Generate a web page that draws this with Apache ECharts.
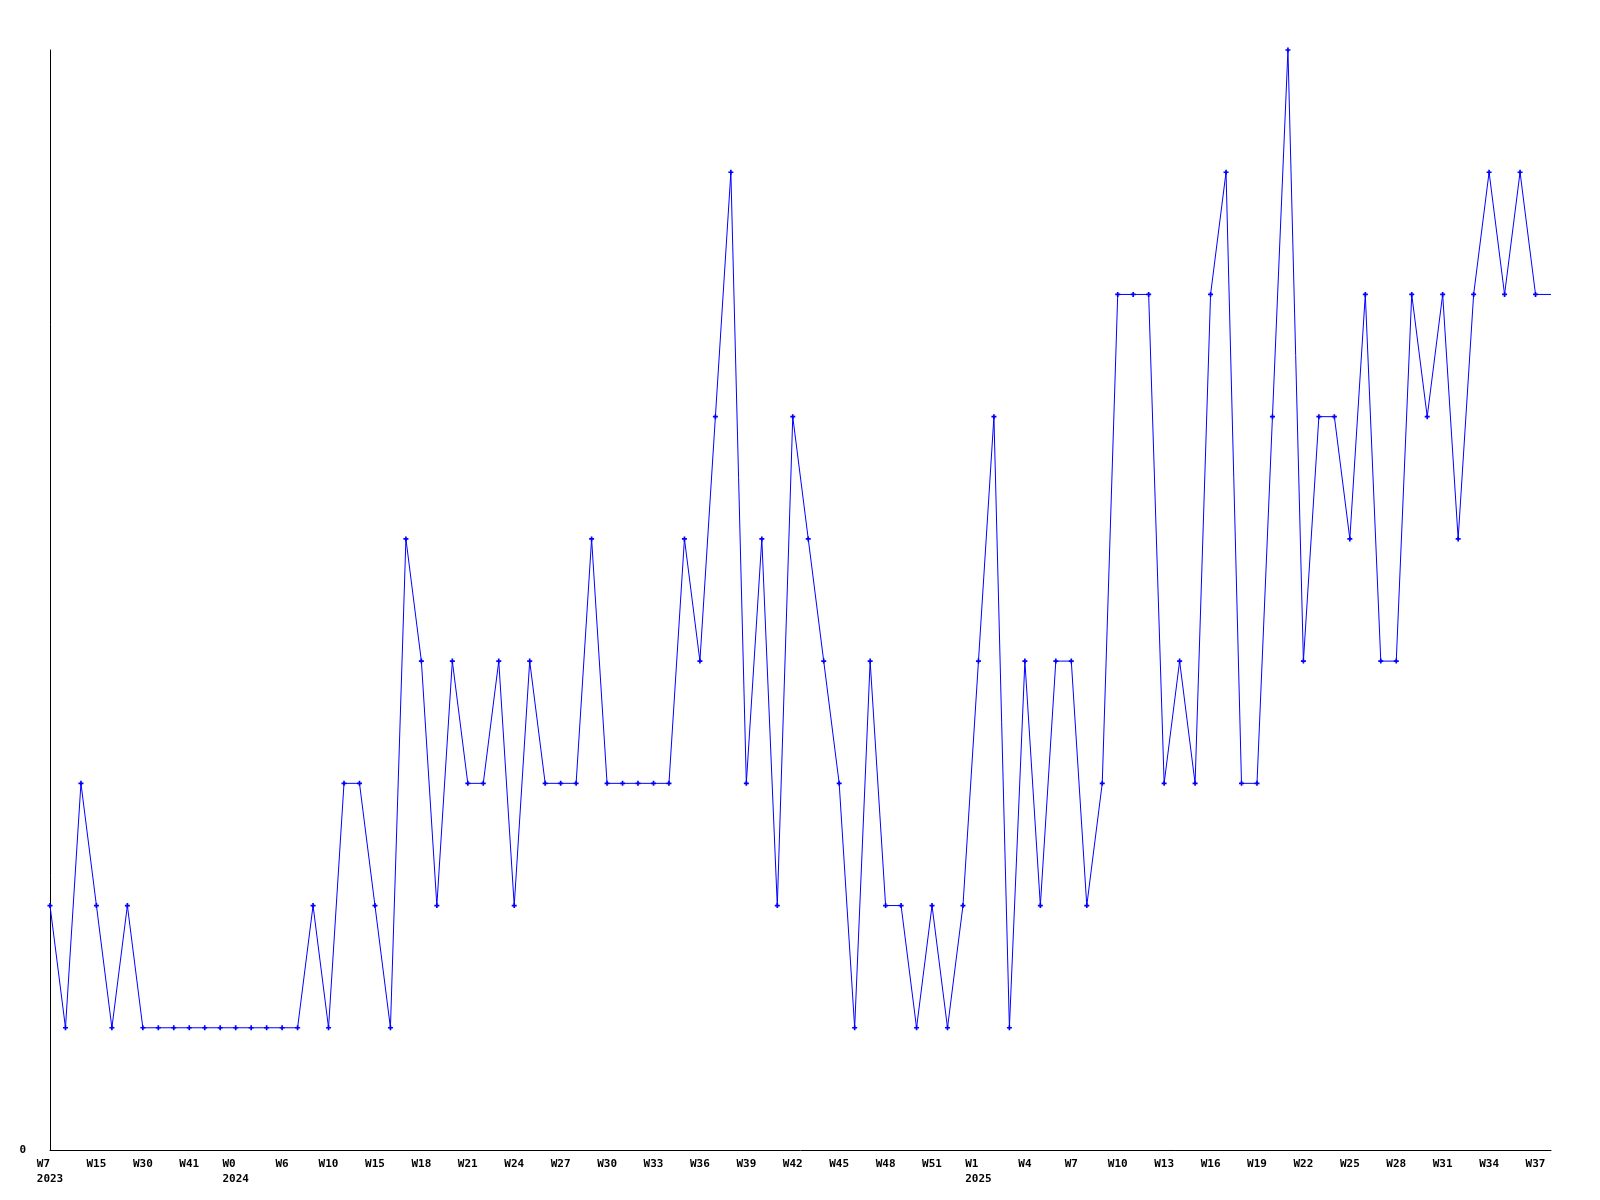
<!DOCTYPE html>
<html>
<head>
<meta charset="utf-8">
<script src="https://cdn.jsdelivr.net/npm/echarts@6/dist/echarts.min.js"></script>
<style>
  html, body { margin: 0; padding: 0; background: #ffffff; }
  #chart { width: 1600px; height: 1200px; }
</style>
</head>
<body>
<div id="chart"></div>
<script>
// Week categories (year-week); every third one is labelled on the axis
const categories = [
  '2023-W7','2023-W9','2023-W12','2023-W15','2023-W21','2023-W26','2023-W30','2023-W33','2023-W37','2023-W41','2023-W45','2023-W49',
  '2024-W0','2024-W2','2024-W4','2024-W6','2024-W7','2024-W9','2024-W10','2024-W12','2024-W13','2024-W15','2024-W16','2024-W17',
  '2024-W18','2024-W19','2024-W20','2024-W21','2024-W22','2024-W23','2024-W24','2024-W25','2024-W26','2024-W27','2024-W28','2024-W29',
  '2024-W30','2024-W31','2024-W32','2024-W33','2024-W34','2024-W35','2024-W36','2024-W37','2024-W38','2024-W39','2024-W40','2024-W41',
  '2024-W42','2024-W43','2024-W44','2024-W45','2024-W46','2024-W47','2024-W48','2024-W49','2024-W50','2024-W51','2024-W52','2025-W0',
  '2025-W1','2025-W2','2025-W3','2025-W4','2025-W5','2025-W6','2025-W7','2025-W8','2025-W9','2025-W10','2025-W11','2025-W12',
  '2025-W13','2025-W14','2025-W15','2025-W16','2025-W17','2025-W18','2025-W19','2025-W20','2025-W21','2025-W22','2025-W23','2025-W24',
  '2025-W25','2025-W26','2025-W27','2025-W28','2025-W29','2025-W30','2025-W31','2025-W32','2025-W33','2025-W34','2025-W35','2025-W36',
  '2025-W37','2025-W38'
];

// Weekly counts
const counts = [
  2,1,3,2,1,2,1,1,1,1,
  1,1,1,1,1,1,1,2,1,3,
  3,2,1,5,4,2,4,3,3,4,
  2,4,3,3,3,5,3,3,3,3,
  3,5,4,6,8,3,5,2,6,5,
  4,3,1,4,2,2,1,2,1,2,
  4,6,1,4,2,4,4,2,3,7,
  7,7,3,4,3,7,8,3,3,6,
  9,4,6,6,5,7,4,4,7,6,
  7,5,7,8,7,8,7,7
];

// y-axis tick labels
const yTicks = [0];
const yMax = 9;

const FONT = 'DejaVu Sans Mono';
const PLUS = 'path://M2,0H4V2H6V4H4V6H2V4H0V2H2Z';

const chart = echarts.init(document.getElementById('chart'), null, { renderer: 'canvas' });

const lastIdx = counts.length - 1;
const seriesData = counts.map((v, i) => i === lastIdx ? { value: v, symbol: 'none' } : v);

function padRight(s, n) { while (s.length < n) s += ' '; return s; }

chart.setOption({
  animation: false,
  backgroundColor: '#ffffff',
  grid: { left: 50, right: 49, top: 50, bottom: 50, containLabel: false },
  xAxis: {
    type: 'category',
    data: categories,
    boundaryGap: false,
    axisLine: { show: true, lineStyle: { color: '#000000', width: 1 } },
    axisTick: { show: false },
    splitLine: { show: false },
    axisLabel: {
      interval: 2,
      margin: 7,
      color: '#000000',
      fontFamily: FONT,
      fontWeight: 'bold',
      fontSize: 11,
      lineHeight: 15,
      formatter: function (val, idx) {
        const parts = val.split('-');
        const year = parts[0], week = parts[1];
        const prevYear = idx >= 3 ? categories[idx - 3].split('-')[0] : null;
        if (year !== prevYear) return padRight(week, year.length) + '\n' + year;
        return week;
      }
    }
  },
  yAxis: {
    type: 'value',
    min: 0,
    max: yMax,
    interval: yMax,
    axisLine: { show: true, lineStyle: { color: '#000000', width: 1 } },
    axisTick: { show: false },
    splitLine: { show: false },
    axisLabel: {
      margin: 24,
      color: '#000000',
      fontFamily: FONT,
      fontWeight: 'bold',
      fontSize: 11,
      formatter: function (v) { return yTicks.indexOf(v) >= 0 ? String(v) : ''; }
    }
  },
  series: [{
    type: 'line',
    data: seriesData,
    symbol: PLUS,
    symbolSize: 5,
    showAllSymbol: true,
    lineStyle: { color: '#0000ff', width: 1 },
    itemStyle: { color: '#0000ff' },
    emphasis: { disabled: true }
  }]
});
</script>
</body>
</html>
